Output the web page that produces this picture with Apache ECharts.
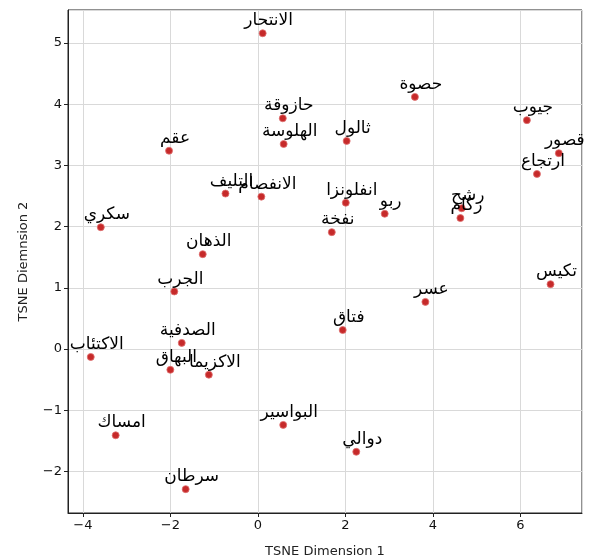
<!DOCTYPE html>
<html>
<head>
<meta charset="utf-8">
<script src="https://cdn.jsdelivr.net/npm/echarts@6/dist/echarts.min.js"></script>
<style>html,body{margin:0;padding:0;background:#fff}#c{width:590px;height:559px}</style>
</head>
<body>
<div id="c"></div>
<script>
const names = ["الانتحار","حصوة","حازوقة","الهلوسة","ثالول","عقم","جيوب","قصور","ارتجاع","رشح","زكام","ربو","انفلونزا","نفخة","التليف","الانفصام","سكري","الذهان","الجرب","الصدفية","الاكتئاب","البهاق","الاكزيما","تكيس","عسر","فتاق","امساك","البواسير","دوالي","سرطان"];
const xs = [0.11,3.59,0.57,0.59,2.03,-2.03,6.15,6.88,6.38,4.66,4.63,2.90,2.01,1.69,-0.74,0.08,-3.59,-1.26,-1.91,-1.74,-3.82,-2.00,-1.12,6.69,3.83,1.94,-3.25,0.58,2.25,-1.65];
const ys = [5.16,4.12,3.77,3.35,3.40,3.24,3.74,3.20,2.86,2.30,2.14,2.21,2.39,1.91,2.54,2.49,1.99,1.55,0.94,0.10,-0.13,-0.34,-0.42,1.06,0.77,0.31,-1.41,-1.24,-1.68,-2.29];
const xTitle = "TSNE Dimension 1";
const yTitle = "TSNE Diemnsion 2";

const font = "DejaVu Sans";
const fmt = v => String(v).replace('-', '\u2212');
const data = names.map((n, i) => ({ value: [xs[i], ys[i]], name: n }));

const chart = echarts.init(document.getElementById('c'));
chart.setOption({
  animation: false,
  textStyle: { fontFamily: font },
  grid: { left: 68, right: 8, top: 10, bottom: 46, outerBoundsMode: 'none', containLabel: false, show: true, borderColor: '#222', borderWidth: 1, backgroundColor: 'transparent' },
  xAxis: {
    type: 'value', min: -4.34, max: 7.41, minInterval: 2, maxInterval: 2,
    name: xTitle, nameLocation: 'middle', nameGap: 32,
    nameTextStyle: { fontSize: 13, color: '#222', fontFamily: font },
    axisLine: { show: true, onZero: false, lineStyle: { color: '#222' } },
    axisTick: { show: true, length: 4, lineStyle: { color: '#222' } },
    axisLabel: { fontSize: 13, color: '#111', fontFamily: font, margin: 6, showMinLabel: false, showMaxLabel: false, formatter: fmt },
    splitLine: { show: true, lineStyle: { color: '#d9d9d9', width: 1 } }
  },
  yAxis: {
    type: 'value', min: -2.68, max: 5.54, minInterval: 1, maxInterval: 1,
    name: yTitle, nameLocation: 'middle', nameGap: 38, nameRotate: 90,
    nameTextStyle: { fontSize: 13, color: '#222', fontFamily: font },
    axisLine: { show: true, onZero: false, lineStyle: { color: '#222' } },
    axisTick: { show: true, length: 4, lineStyle: { color: '#222' } },
    axisLabel: { fontSize: 13, color: '#111', fontFamily: font, margin: 6, showMinLabel: false, showMaxLabel: false, formatter: fmt },
    splitLine: { show: true, lineStyle: { color: '#d9d9d9', width: 1 } }
  },
  series: [{
    type: 'scatter',
    symbolSize: 7,
    itemStyle: { color: '#c62a2a', borderColor: '#e07070', borderWidth: 0.8, opacity: 1 },
    label: {
      show: true, position: 'top', distance: 0, padding: [0, 0, 0, 12],
      formatter: p => p.name, fontSize: 17, color: '#000', fontFamily: font
    },
    labelLayout: { hideOverlap: false },
    data: data
  }]
});
</script>
</body>
</html>
